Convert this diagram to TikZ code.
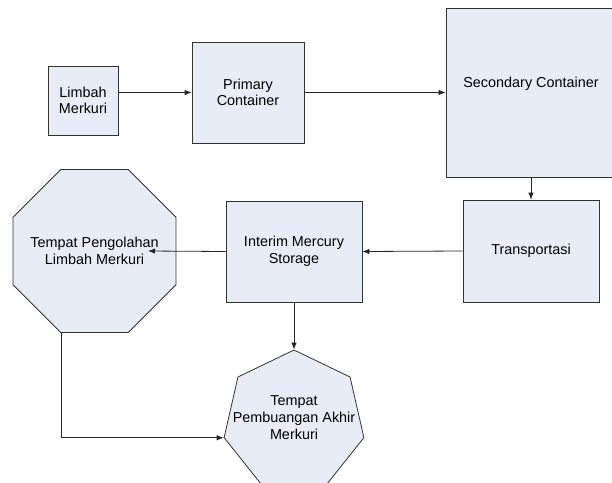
\documentclass[tikz,border=0pt]{standalone}
\usepackage{fontspec}
\setmainfont{Liberation Sans}
\usetikzlibrary{shapes.geometric,arrows.meta,calc}
\definecolor{boxfill}{RGB}{231,236,247}
\definecolor{boxline}{RGB}{50,50,50}
\begin{document}
\begin{tikzpicture}[x=1pt,y=-1pt,
  box/.style={draw=boxline,fill=boxfill,line width=0.8pt,inner sep=0pt},
  lbl/.style={align=center,font=\fontsize{14.4}{16.7}\selectfont,inner sep=0pt},
  conn/.style={draw=black!85,line width=0.8pt,-{Latex[length=7pt,width=5.5pt]}}]
\useasboundingbox (0,0) rectangle (612,482);
\clip (0,0) rectangle (612,482);
% boxes
\node[box,minimum width=70pt,minimum height=69pt] (lm) at (83,100.5) {};
\node[lbl] at (lm) {Limbah\\Merkuri};
\node[box,minimum width=112pt,minimum height=101pt] (pc) at (248,92.5) {};
\node[lbl] at (pc) {Primary\\Container};
\node[box,minimum width=170pt,minimum height=169pt] (sc) at (531,92.5) {};
\node[lbl] at (531,84) {Secondary Container};
\node[box,minimum width=136pt,minimum height=102pt] (tr) at (531,251) {};
\node[lbl] at (tr) {Transportasi};
\node[box,minimum width=136pt,minimum height=101pt] (ims) at (294,251.5) {};
\node[lbl] at (ims) {Interim Mercury\\Storage};
\node[box,regular polygon,regular polygon sides=8,minimum size=176.4pt] (oct) at (94.5,251) {};
\node[lbl] at (oct) {Tempat Pengolahan\\Limbah Merkuri};
\node[box,regular polygon,regular polygon sides=7,minimum size=143.4pt] (hep) at (294,421.7) {};
\node[lbl] at (294,417.5) {Tempat\\Pembuangan Akhir\\Merkuri};
% connector helpers
\coordinate (octtip) at ($(oct.center)+(53.5,0)$);
\coordinate (octout) at ($(oct.south)+(-33.5,0)$);
% connectors
\draw[conn] (lm.east |- pc.west) -- (pc.west);
\draw[conn] (pc.east) -- (sc.west |- pc.east);
\draw[conn] (sc.south) -- (tr.north);
\draw[conn] (tr.west) -- (ims.east);
\draw[conn] (ims.west) -- (octtip);
\draw[conn] (ims.south) -- (hep.corner 1);
\draw[conn] (octout) |- (hep.corner 3);
\end{tikzpicture}
\end{document}
